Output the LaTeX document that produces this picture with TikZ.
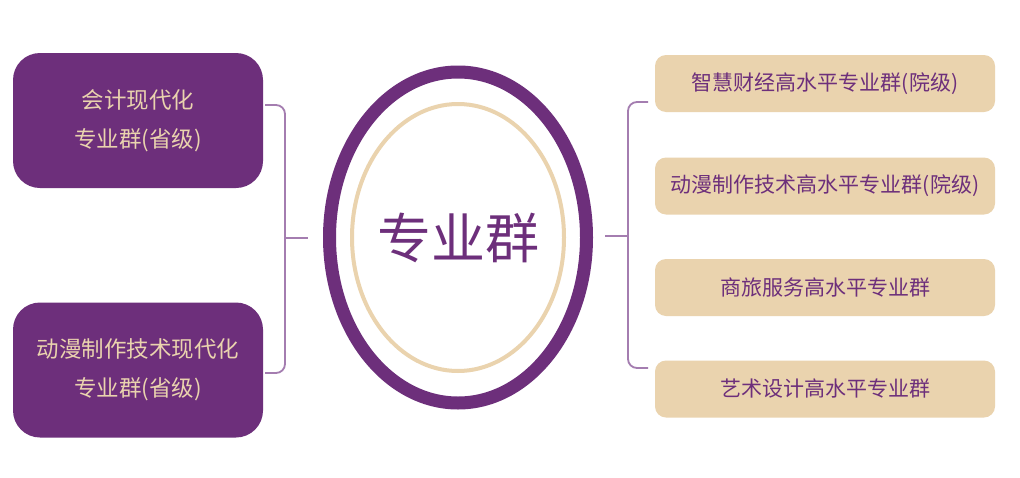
\documentclass[tikz,border=0pt]{standalone}
\usepackage{fontspec}
\newfontfamily\cjk{Noto Sans CJK SC}
\usetikzlibrary{shapes.geometric}
\definecolor{pur}{HTML}{6D2F7B}
\definecolor{tan}{HTML}{EAD3AE}
\definecolor{brk}{HTML}{A47DB0}
\tikzset{
  leftbox/.style={rectangle, rounded corners=27pt, fill=pur, minimum width=250pt, minimum height=135pt, inner sep=0pt, text=tan, align=center, font=\cjk\fontsize{22.5}{39}\selectfont},
  rightbox/.style={rectangle, rounded corners=11pt, fill=tan, minimum width=340pt, minimum height=57pt, inner sep=0pt, text=pur, font=\cjk\fontsize{21}{24}\selectfont},
  brkline/.style={draw=brk, line width=1.8pt, rounded corners=9pt}
}
\begin{document}
\begin{tikzpicture}[x=1pt,y=-1pt]
\useasboundingbox[fill=white] (0,0) rectangle (1020,477);
% left boxes
\node[leftbox] (l1) at (138,120.5) {会计现代化\\专业群(省级)};
\node[leftbox] (l2) at (138,370) {动漫制作技术现代化\\专业群(省级)};
% center rings
\node[ellipse, draw=pur, line width=13pt, minimum width=257pt, minimum height=331pt, inner sep=0pt] (ring) at (458,237.5) {};
\node[ellipse, draw=tan, line width=4pt, minimum width=212pt, minimum height=267pt, inner sep=0pt] (inner) at (458,237.5) {};
\node[text=pur, font=\cjk\fontsize{54}{60}\selectfont] (title) at (458,238) {专业群};
% right boxes
\node[rightbox] (r1) at (825,83.5) {智慧财经高水平专业群(院级)};
\node[rightbox] (r2) at (825,186) {动漫制作技术高水平专业群(院级)};
\node[rightbox] (r3) at (825,287.5) {商旅服务高水平专业群};
\node[rightbox] (r4) at (825,389) {艺术设计高水平专业群};
% left bracket
\coordinate (lt) at (265,105);
\coordinate (lb) at (265,373);
\coordinate (lj) at (285,238);
\coordinate (lm) at (308,238);
\draw[brkline] (lt) -| (lj) |- (lb);
\draw[brkline] (lj) -- (lm);
% right bracket
\coordinate (rt) at (648,102);
\coordinate (rb) at (648,368);
\coordinate (rj) at (628,236);
\coordinate (rm) at (605,236);
\draw[brkline] (rt) -| (rj) |- (rb);
\draw[brkline] (rj) -- (rm);
\end{tikzpicture}
\end{document}
